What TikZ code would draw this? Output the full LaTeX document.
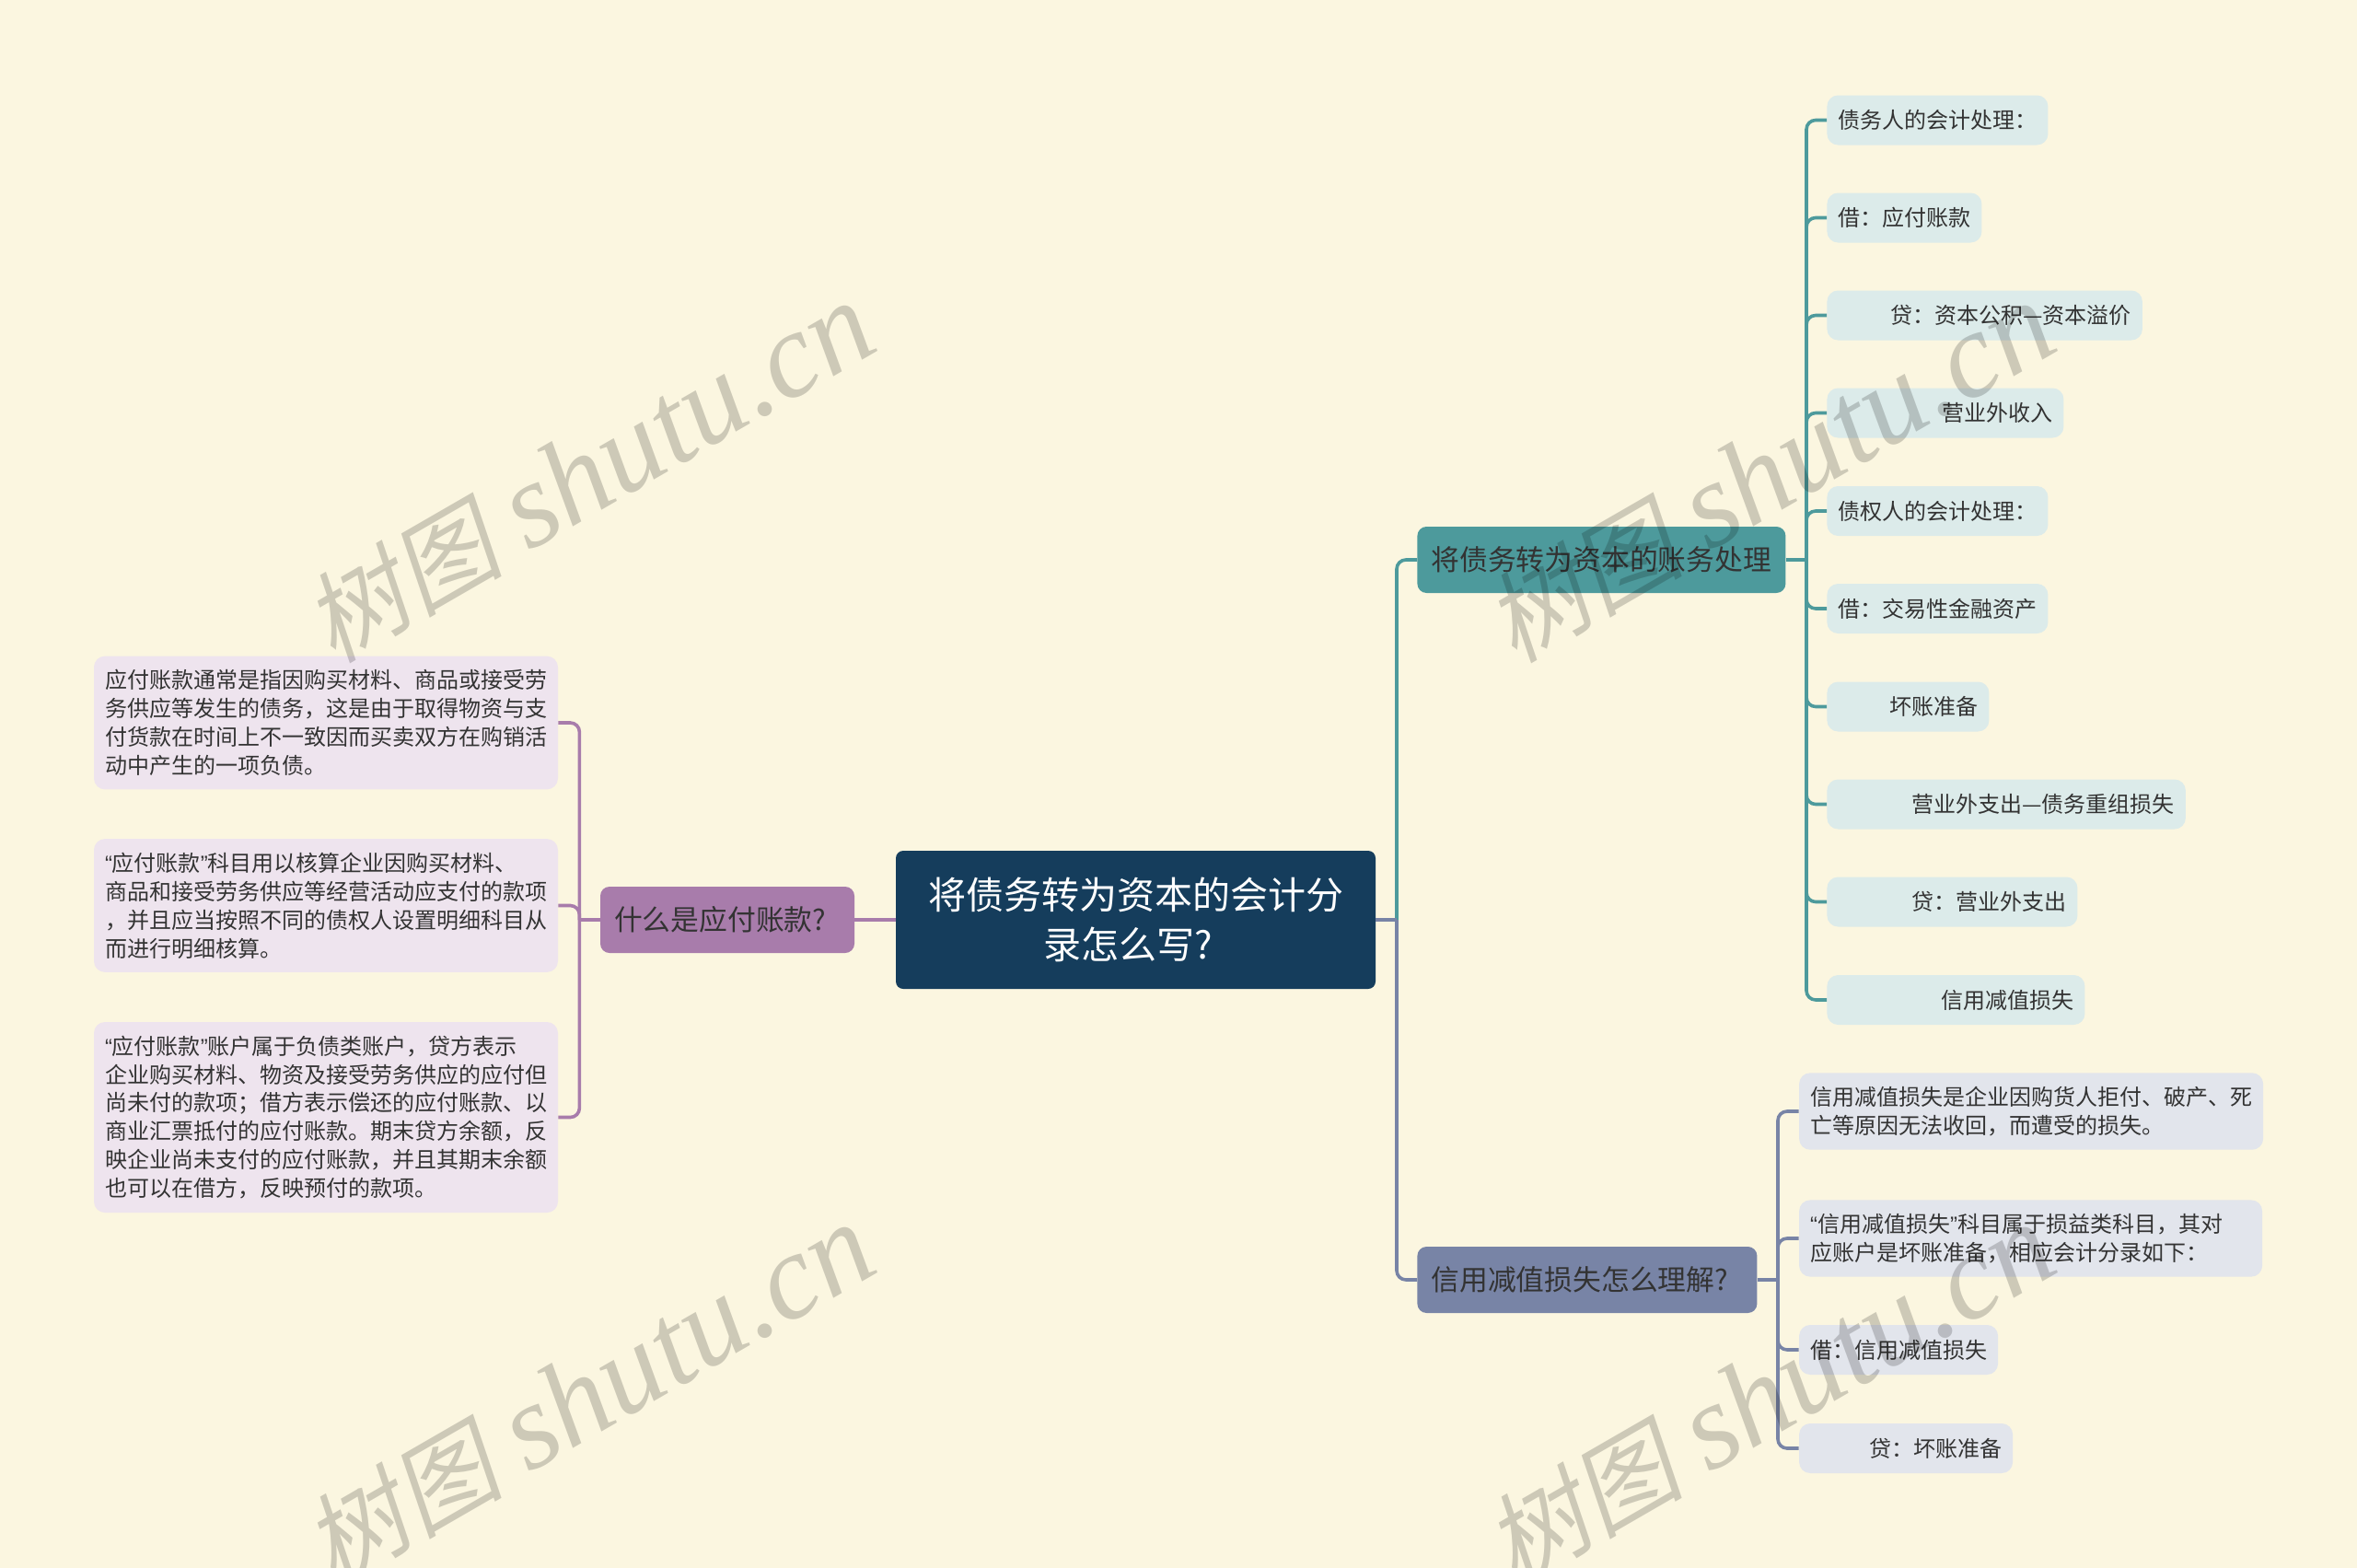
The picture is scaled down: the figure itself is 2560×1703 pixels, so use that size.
\documentclass[tikz,border=0pt]{standalone}
\usepackage{fontspec}
\setmainfont{Noto Sans CJK SC}
\newfontfamily\quotefont{Liberation Sans}
\newfontfamily\markcjk[FakeSlant=0.2]{Noto Sans CJK SC}
\newfontfamily\marklatin{Liberation Serif}
\definecolor{paper}{HTML}{FBF6E0}
\definecolor{rootblue}{HTML}{153D5C}
\definecolor{tealmain}{HTML}{4D9A9C}
\definecolor{tealpale}{HTML}{DCEBEA}
\definecolor{plummain}{HTML}{A87CAB}
\definecolor{plumpale}{HTML}{EEE4EE}
\definecolor{slatemain}{HTML}{7884A6}
\definecolor{slatepale}{HTML}{E2E5EC}
\definecolor{inktext}{HTML}{333333}
\newcommand{\qo}{{\quotefont “}}
\newcommand{\qc}{{\quotefont ”}}

\begin{document}
\begin{tikzpicture}[x=0.5pt, y=-0.5pt,
    root/.style={rectangle, rounded corners=4pt, fill=rootblue, text=white, align=center, minimum width=260.5pt, minimum height=75pt, inner sep=0pt, font=\fontsize{20.5}{27}\selectfont},
    branch/.style={rectangle, rounded corners=5pt, fill=#1, text=inktext, align=left, inner xsep=7.5pt, inner ysep=0pt, minimum height=36pt, font=\fontsize{15.4}{20}\selectfont},
    leaf/.style={rectangle, rounded corners=6pt, fill=#1, text=inktext, inner xsep=6pt, inner ysep=7.4pt, minimum height=27pt, align=left, font=\fontsize{12}{15.45}\selectfont},
    link/.style={draw=#1, line width=1.8pt, rounded corners=5pt}]
    \useasboundingbox (0,0) rectangle (2560,1703);
    \fill[paper] (0,0) rectangle (2560,1703);

    \node[root] (root) at (1233.5,999) {将债务转为资本的会计分\\录怎么写?\hspace*{8pt}};

    \node[branch=plummain, text width=123pt] (payable) at (790,999) {什么是应付账款?};
    \node[branch=tealmain, text width=185pt, anchor=west] (convert) at (1539,608) {将债务转为资本的账务处理};
    \node[branch=slatemain, text width=169.5pt, anchor=west] (credit) at (1539,1390) {信用减值损失怎么理解?};

    \node[leaf=plumpale, anchor=east] (payA) at (606.4,785) {应付账款通常是指因购买材料、商品或接受劳\\务供应等发生的债务，这是由于取得物资与支\\付货款在时间上不一致因而买卖双方在购销活\\动中产生的一项负债。};
    \node[leaf=plumpale, anchor=east] (payB) at (606.4,983.5) {\qo 应付账款\qc 科目用以核算企业因购买材料、\\商品和接受劳务供应等经营活动应支付的款项\\，并且应当按照不同的债权人设置明细科目从\\而进行明细核算。};
    \node[leaf=plumpale, anchor=east] (payC) at (606.4,1213.5) {\qo 应付账款\qc 账户属于负债类账户，贷方表示\\企业购买材料、物资及接受劳务供应的应付但\\尚未付的款项；借方表示偿还的应付账款、以\\商业汇票抵付的应付账款。期末贷方余额，反\\映企业尚未支付的应付账款，并且其期末余额\\也可以在借方，反映预付的款项。};

    \node[leaf=tealpale, anchor=west] (conA) at (1984,130.5) {债务人的会计处理：};
    \node[leaf=tealpale, anchor=west] (conB) at (1984,236.5) {借：应付账款};
    \node[leaf=tealpale, anchor=west] (conC) at (1984,342.5) {\hspace*{28.5pt}贷：资本公积—资本溢价};
    \node[leaf=tealpale, anchor=west] (conD) at (1984,448.5) {\hspace*{56.5pt}营业外收入};
    \node[leaf=tealpale, anchor=west] (conE) at (1984,555) {债权人的会计处理：};
    \node[leaf=tealpale, anchor=west] (conF) at (1984,661) {借：交易性金融资产};
    \node[leaf=tealpale, anchor=west] (conG) at (1984,767.5) {\hspace*{28pt}坏账准备};
    \node[leaf=tealpale, anchor=west] (conH) at (1984,873.5) {\hspace*{40pt}营业外支出—债务重组损失};
    \node[leaf=tealpale, anchor=west] (conI) at (1984,979.5) {\hspace*{40pt}贷：营业外支出};
    \node[leaf=tealpale, anchor=west] (conJ) at (1984,1086) {\hspace*{56pt}信用减值损失};

    \node[leaf=slatepale, anchor=west] (creA) at (1953.7,1207) {信用减值损失是企业因购货人拒付、破产、死\\亡等原因无法收回，而遭受的损失。};
    \node[leaf=slatepale, anchor=west, text width=239.5pt] (creB) at (1953.7,1345) {\qo 信用减值损失\qc 科目属于损益类科目，其对\\应账户是坏账准备，相应会计分录如下：};
    \node[leaf=slatepale, anchor=west] (creC) at (1953.7,1466) {借：信用减值损失};
    \node[leaf=slatepale, anchor=west] (creD) at (1953.7,1573) {\hspace*{32pt}贷：坏账准备};

    \coordinate (rootspine) at (1517,0);
    \coordinate (plumspine) at (629.4,0);
    \coordinate (tealspine) at (1962,0);
    \coordinate (slatespine) at (1931,0);

    \draw[link=plummain] (root.west) -- (payable.east);
    \draw[link=tealmain] (root.east -| rootspine) |- (convert.west);
    \draw[link=slatemain] (root.east -| rootspine) |- (credit.west);
    \draw[link=slatemain] (root.east) -- (root.east -| rootspine);
    \draw[link=plummain] (payable.west) -- (payable.west -| plumspine);
    \foreach \item in {payA,payB,payC}
        \draw[link=plummain] (payable.west -| plumspine) |- (\item.east);
    \draw[link=tealmain] (convert.east) -- (convert.east -| tealspine);
    \foreach \item in {conA,conB,conC,conD,conE,conF,conG,conH,conI,conJ}
        \draw[link=tealmain] (convert.east -| tealspine) |- (\item.west);
    \draw[link=slatemain] (credit.east) -- (credit.east -| slatespine);
    \foreach \item in {creA,creB,creC,creD}
        \draw[link=slatemain] (credit.east -| slatespine) |- (\item.west);

    \foreach \spot [count=\i] in {(640,514),(1922,514),(640,1515),(1922,1515)}
        \node[rotate=30, text=black, text opacity=0.18, inner sep=0pt] (stamp\i) at \spot {{\fontsize{54}{54}\selectfont\markcjk 树图}\hspace{14pt}{\fontsize{66}{66}\selectfont\marklatin\itshape shutu.cn}};
\end{tikzpicture}
\end{document}
